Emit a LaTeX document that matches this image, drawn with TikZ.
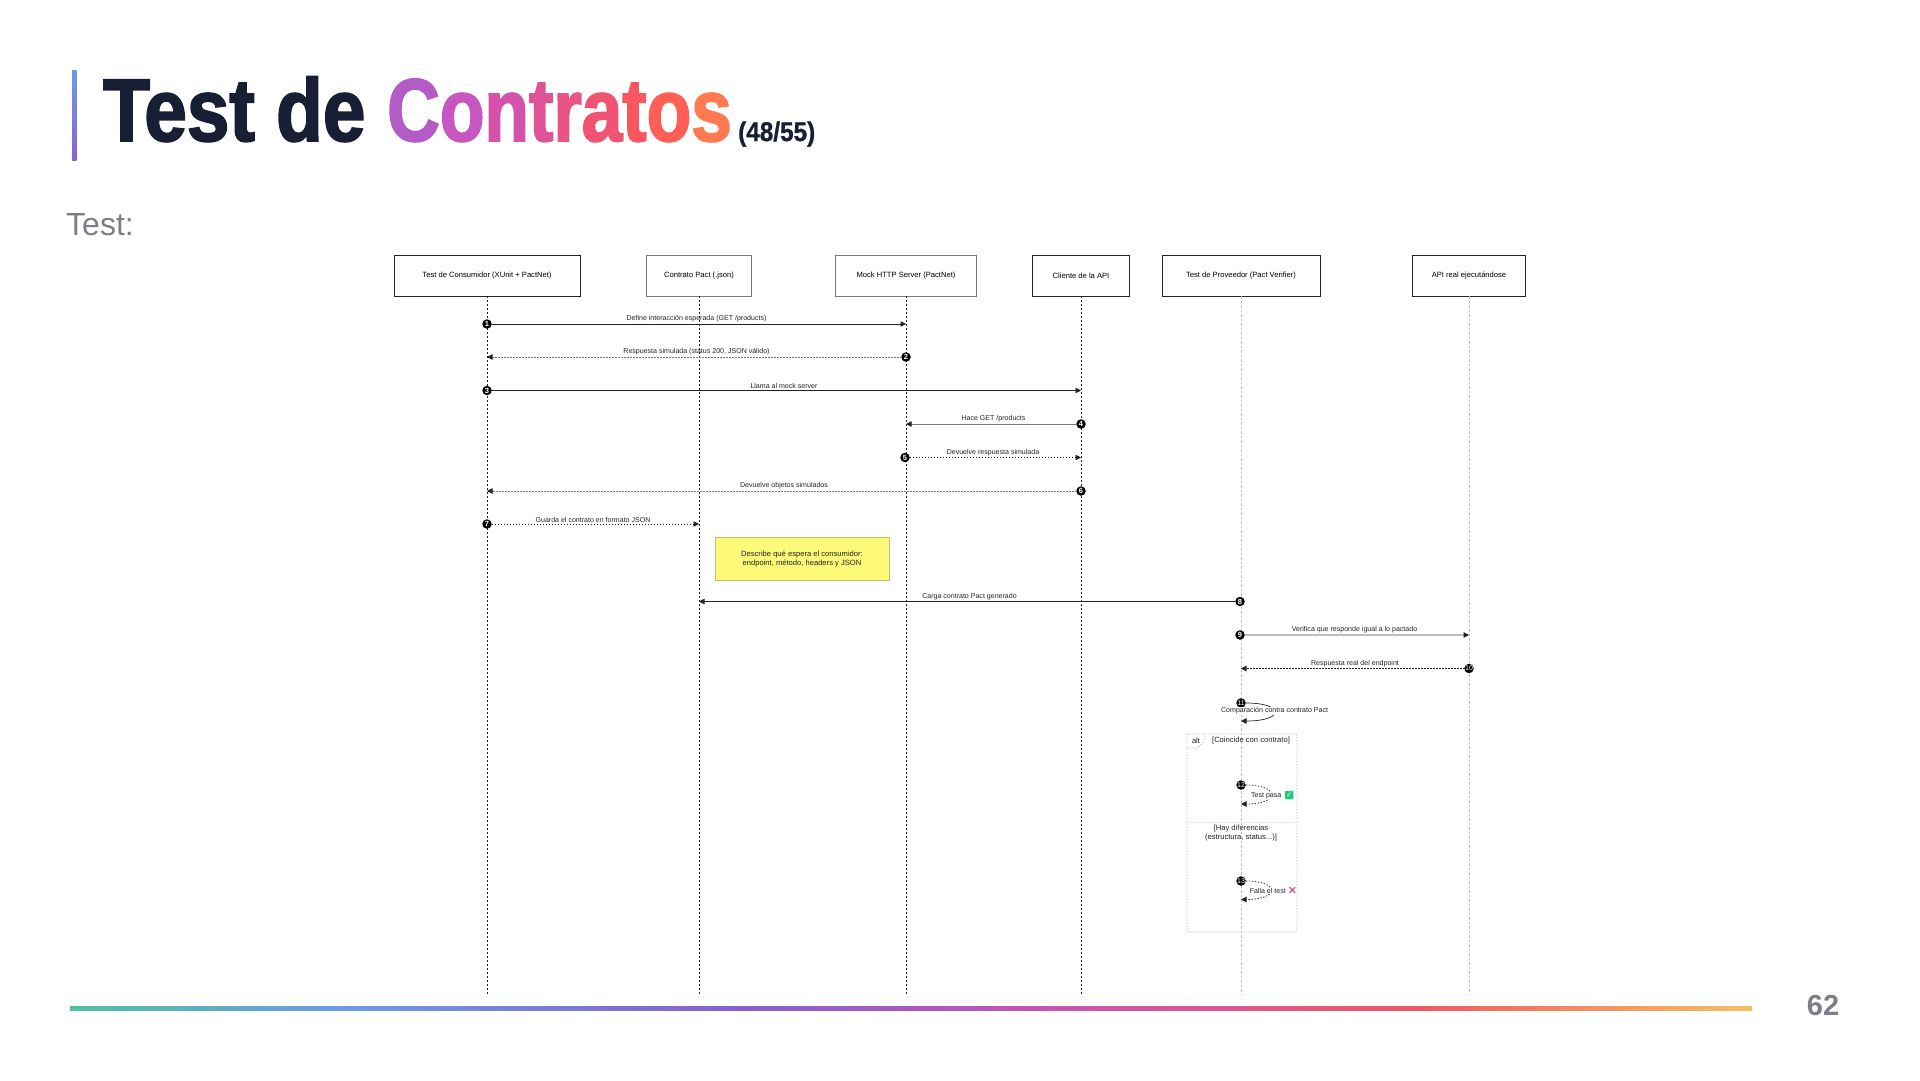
\documentclass[tikz,border=0pt]{standalone}
\usepackage{xcolor}
\usepackage{fontspec}
\setmainfont{Liberation Sans}
\newfontfamily\titlefont[FakeStretch=0.86,BoldFeatures={FakeBold=2}]{Liberation Sans}
\newfontfamily\gradfont[FakeStretch=0.82,BoldFeatures={FakeBold=2}]{Liberation Sans}
\newfontfamily\countfont[FakeStretch=0.9,BoldFeatures={FakeBold=1}]{Liberation Sans}
\newfontfamily\symbfont{DejaVu Sans}
\usetikzlibrary{shapes.geometric, arrows.meta, positioning, fit, calc}
\definecolor{slidedark}{RGB}{24, 30, 52}
\definecolor{slidegray}{RGB}{125, 126, 135}
\definecolor{seqdark}{RGB}{35, 35, 35}
\definecolor{seqmid}{RGB}{120, 120, 120}
\definecolor{seqlight}{RGB}{190, 190, 190}
\definecolor{seqfaint}{RGB}{228, 228, 228}
\definecolor{notefill}{RGB}{252, 250, 120}
\definecolor{noteborder}{RGB}{195, 190, 110}
\definecolor{passgreen}{RGB}{40, 200, 120}
\definecolor{failred}{RGB}{222, 40, 95}
\definecolor{bartop}{RGB}{110, 155, 232}
\definecolor{barbottom}{RGB}{138, 99, 210}
\definecolor{gradA}{RGB}{180, 92, 198}
\definecolor{gradB}{RGB}{200, 86, 192}
\definecolor{gradC}{RGB}{212, 82, 170}
\definecolor{gradD}{RGB}{222, 82, 150}
\definecolor{gradE}{RGB}{232, 84, 132}
\definecolor{gradF}{RGB}{240, 84, 114}
\definecolor{gradG}{RGB}{248, 86, 96}
\definecolor{gradH}{RGB}{255, 95, 86}
\definecolor{gradI}{RGB}{255, 122, 80}
\pgfdeclarehorizontalshading{footergrad}{100bp}{
  rgb(0bp)=(.31,.76,.63);
  rgb(25bp)=(.31,.76,.63);
  rgb(33bp)=(.43,.61,.90);
  rgb(45bp)=(.53,.37,.80);
  rgb(55bp)=(.80,.33,.69);
  rgb(65bp)=(.93,.35,.39);
  rgb(72bp)=(.97,.63,.37);
  rgb(75bp)=(.94,.76,.39);
  rgb(100bp)=(.94,.76,.39)}

\begin{document}
\begin{tikzpicture}[
  x=1pt, y=-1pt,
  actor/.style={rectangle, draw=seqdark, fill=white, line width=0.9pt, minimum height=41pt,
                align=center, font=\fontsize{7.6}{9}\selectfont},
  actorpale/.style={actor, draw=seqmid},
  lifeline/.style={seqdark, line width=0.7pt, dash pattern=on 2pt off 2pt},
  lifelinepale/.style={seqlight, line width=0.7pt, dash pattern=on 2.5pt off 2pt},
  seqnum/.style={circle, fill=black, text=white, inner sep=0pt, minimum size=9.5pt,
                 font=\fontsize{7.5}{7.5}\selectfont\bfseries},
  msg/.style={-{Triangle[length=5.5pt,width=5.5pt,color=seqdark,fill=seqdark]}, line width=0.9pt, color=seqdark, shorten <=4.5pt},
  msgmid/.style={msg, color=seqmid},
  msglight/.style={msg, color=seqlight, line width=1.1pt},
  reply/.style={msg, line width=0.8pt, dash pattern=on 1.5pt off 1.5pt},
  replypale/.style={reply, color=seqmid},
  msgtext/.style={above, inner sep=1.5pt, text=seqdark, font=\fontsize{7.05}{9}\selectfont},
  looptext/.style={fill=white, inner sep=0.5pt, text=seqdark, font=\fontsize{7.05}{9}\selectfont},
  altline/.style={seqlight, line width=0.8pt, dash pattern=on 1.5pt off 1.5pt},
  titletext/.style={anchor=base west, inner sep=0pt},
]
  \useasboundingbox (0,0) rectangle (1920,1080);

  % Slide header
  \shade[top color=bartop, bottom color=barbottom] (72,70) rectangle (76.5,160);
  \node[titletext, text=slidedark, font=\titlefont\fontsize{89}{89}\selectfont\bfseries] (titlea) at (103,141) {Test de};
  \node[titletext, font=\gradfont\fontsize{89}{89}\selectfont\bfseries] (titleb) at (387,141) {\textcolor{gradA}{C}\textcolor{gradB}{o}\textcolor{gradC}{n}\textcolor{gradD}{t}\textcolor{gradE}{r}\textcolor{gradF}{a}\textcolor{gradG}{t}\textcolor{gradH}{o}\textcolor{gradI}{s}};
  \node[titletext, text=slidedark, font=\countfont\fontsize{27}{27}\selectfont\bfseries] (counter) at (738,141) {(48/55)};
  \node[titletext, text=slidegray, font=\fontsize{32}{32}\selectfont] (subtitle) at (66,235) {Test:};

  % Actors
  \node[actor, minimum width=186pt] (consumer) at (487,275.5) {Test de Consumidor (XUnit + PactNet)};
  \node[actorpale, minimum width=105pt] (contract) at (699,275.5) {Contrato Pact (.json)};
  \node[actorpale, minimum width=141pt] (mock) at (906,275.5) {Mock HTTP Server (PactNet)};
  \node[actor, minimum width=97pt] (client) at (1081,275.5) {Cliente de la API};
  \node[actor, minimum width=158pt] (provider) at (1241,275.5) {Test de Proveedor (Pact Verifier)};
  \node[actor, minimum width=113pt] (realapi) at (1469,275.5) {API real ejecutándose};

  % Lifelines
  \coordinate (consumerend) at (487,994);
  \coordinate (contractend) at (699,994);
  \coordinate (mockend) at (906,994);
  \coordinate (clientend) at (1081,994);
  \coordinate (providerend) at (1241,994);
  \coordinate (realapiend) at (1469,994);
  \draw[lifeline] (consumer) -- (consumerend);
  \draw[lifeline] (contract) -- (contractend);
  \draw[lifeline] (mock) -- (mockend);
  \draw[lifeline] (client) -- (clientend);
  \draw[lifelinepale] (provider) -- (providerend);
  \draw[lifelinepale] (realapi) -- (realapiend);

  % Consumer side
  \node[seqnum] (n1) at (487,324) {1};
  \coordinate (t1) at (906,324);
  \draw[msg] (n1.center) -- node[msgtext]{Define interacción esperada (GET /products)} (t1);
  \node[seqnum] (n2) at (906,357) {2};
  \coordinate (t2) at (487,357);
  \draw[replypale] (n2.center) -- node[msgtext]{Respuesta simulada (status 200, JSON válido)} (t2);
  \node[seqnum] (n3) at (487,390.5) {3};
  \coordinate (t3) at (1081,390.5);
  \draw[msg] (n3.center) -- node[msgtext]{Llama al mock server} (t3);
  \node[seqnum] (n4) at (1081,424) {4};
  \coordinate (t4) at (906,424);
  \draw[msgmid] (n4.center) -- node[msgtext]{Hace GET /products} (t4);
  \node[seqnum] (n5) at (905,457.5) {5};
  \coordinate (t5) at (1081,457.5);
  \draw[reply] (n5.center) -- node[msgtext]{Devuelve respuesta simulada} (t5);
  \node[seqnum] (n6) at (1081,491) {6};
  \coordinate (t6) at (487,491);
  \draw[replypale] (n6.center) -- node[msgtext]{Devuelve objetos simulados} (t6);
  \node[seqnum] (n7) at (487,524) {7};
  \coordinate (t7) at (699,524);
  \draw[reply] (n7.center) -- node[msgtext]{Guarda el contrato en formato JSON} (t7);

  % Note
  \node[rectangle, draw=noteborder, fill=notefill, line width=0.9pt, minimum width=174pt, minimum height=43pt,
        align=center, text=seqdark, font=\fontsize{7.6}{9.5}\selectfont] (note) at (802,559)
        {Describe qué espera el consumidor:\\endpoint, método, headers y JSON};

  % Provider side
  \node[seqnum] (n8) at (1240,601.5) {8};
  \coordinate (t8) at (699,601.5);
  \draw[msg] (n8.center) -- node[msgtext]{Carga contrato Pact generado} (t8);
  \node[seqnum] (n9) at (1240,635) {9};
  \coordinate (t9) at (1469,635);
  \draw[msglight] (n9.center) -- node[msgtext]{Verifica que responde igual a lo pactado} (t9);
  \node[seqnum, font=\fontsize{7}{7}\selectfont] (n10) at (1469,668.5) {10};
  \coordinate (t10) at (1241,668.5);
  \draw[reply] (n10.center) -- node[msgtext]{Respuesta real del endpoint} (t10);
  \node[seqnum, font=\fontsize{7}{7}\selectfont] (n11) at (1241,703) {11};
  \coordinate (t11) at (1241,721);
  \draw[msg, line width=0.7pt, shorten <=0pt] (n11) .. controls (1285,703) and (1285,721) .. node[looptext, yshift=1pt]{Comparación contra contrato Pact} (t11);

  % Alt frame
  \node[rectangle, draw=seqlight, line width=0.8pt, dash pattern=on 1.5pt off 1.5pt, rounded corners=1pt,
        minimum width=110pt, minimum height=198pt] (frame) at (1242,833) {};
  \coordinate (dividerl) at (1187,822);
  \coordinate (dividerr) at (1297,822);
  \draw[seqfaint, line width=0.8pt, dash pattern=on 1.5pt off 1.5pt] (dividerl) -- (dividerr);
  \coordinate (taba) at (1187,748);
  \coordinate (tabb) at (1198,748);
  \coordinate (tabc) at (1204,741);
  \coordinate (tabd) at (1204,734);
  \draw[altline] (taba) -- (tabb) -- (tabc) -- (tabd);
  \node[text=seqdark, inner sep=0pt, font=\fontsize{7.6}{9}\selectfont] (altlabel) at (1196,741) {alt};
  \node[text=seqdark, inner sep=0pt, font=\fontsize{7.6}{9}\selectfont] (altcase) at (1251,741) {[Coincide con contrato]};
  \node[text=seqdark, inner sep=0pt, align=center, font=\fontsize{7.6}{9}\selectfont] (altelse) at (1241,833.5) {[Hay diferencias\\(estructura, status...)]};

  % Pass branch
  \node[seqnum, font=\fontsize{7}{7}\selectfont] (n12) at (1241,785) {12};
  \coordinate (t12) at (1241,804);
  \draw[reply, line width=0.7pt, shorten <=0pt] (n12) .. controls (1280,785) and (1280,804) .. (t12);
  \node[looptext, anchor=east] (passtext) at (1282,795.5) {Test pasa};
  \node[rectangle, rounded corners=1pt, fill=passgreen, text=white, inner sep=0pt, minimum size=8.5pt,
        font=\symbfont\fontsize{7}{7}\selectfont] (passicon) at (1289,795) {✓};

  % Fail branch
  \node[seqnum, font=\fontsize{7}{7}\selectfont] (n13) at (1241,881) {13};
  \coordinate (t13) at (1241,899.5);
  \draw[reply, line width=0.7pt, shorten <=0pt] (n13) .. controls (1280,881) and (1280,899.5) .. (t13);
  \node[looptext, anchor=east] (failtext) at (1286.5,891) {Falla el test};
  \node[text=failred, inner sep=0pt, font=\symbfont\fontsize{11}{11}\selectfont] (failicon) at (1292.5,891) {✕};

  % Footer
  \shade[shading=footergrad] (70,1006) rectangle (1752,1010);
  \node[text=slidegray, inner sep=0pt, font=\fontsize{29}{29}\selectfont\bfseries] (pagenum) at (1823,1006) {62};
\end{tikzpicture}
\end{document}
